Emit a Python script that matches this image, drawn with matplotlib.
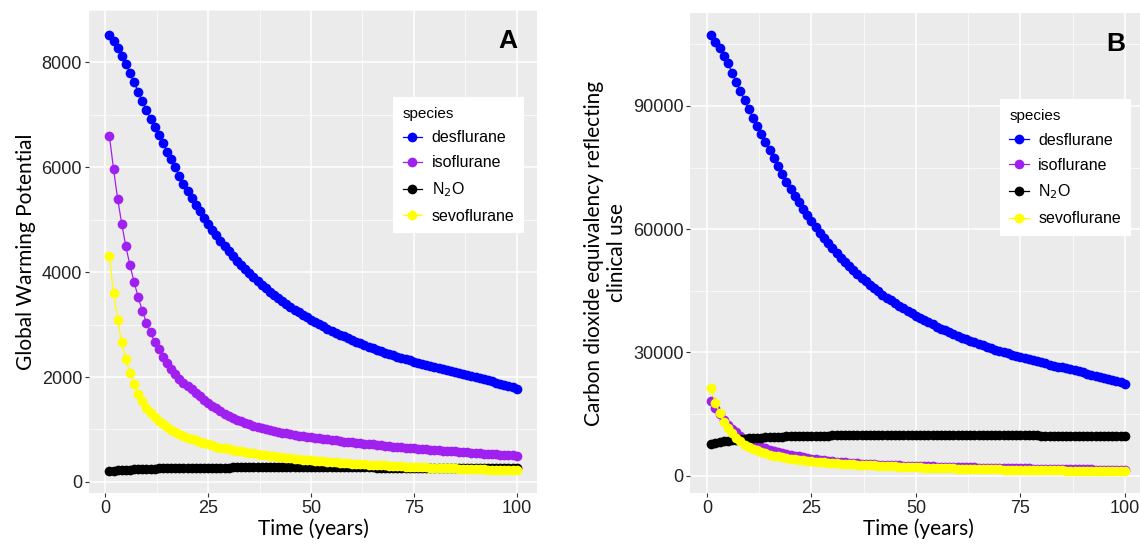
import matplotlib
matplotlib.use("Agg")
import matplotlib.pyplot as plt
from matplotlib.lines import Line2D

years = list(range(1, 101))

# panel A: global warming potential
gwp_des = [8530, 8400, 8270, 8120, 7975, 7800, 7620, 7440, 7265, 7090,
           6930, 6770, 6610, 6455, 6300, 6150, 6000, 5840, 5690, 5550,
           5420, 5290, 5165, 5040, 4920, 4810, 4700, 4600, 4500, 4400,
           4310, 4220, 4135, 4055, 3975, 3900, 3830, 3760, 3690, 3625,
           3565, 3505, 3445, 3390, 3335, 3285, 3235, 3185, 3140, 3095,
           3050, 3005, 2965, 2925, 2885, 2845, 2810, 2775, 2740, 2705,
           2670, 2640, 2610, 2580, 2550, 2520, 2490, 2465, 2440, 2415,
           2390, 2365, 2340, 2320, 2295, 2275, 2250, 2230, 2210, 2190,
           2170, 2150, 2130, 2110, 2095, 2075, 2055, 2040, 2020, 2005,
           1975, 1955, 1935, 1915, 1895, 1875, 1855, 1835, 1805, 1775]
gwp_iso = [6600, 5970, 5400, 4920, 4490, 4130, 3815, 3520, 3265, 3035,
           2850, 2670, 2530, 2390, 2260, 2150, 2050, 1960, 1890, 1830,
           1765, 1700, 1640, 1570, 1505, 1450, 1400, 1350, 1300, 1250,
           1220, 1190, 1160, 1130, 1100, 1075, 1050, 1030, 1010, 990,
           970, 955, 940, 925, 910, 895, 880, 870, 860, 850,
           840, 830, 820, 810, 800, 790, 780, 770, 762, 754,
           746, 738, 730, 722, 714, 706, 698, 690, 682, 674,
           667, 660, 653, 646, 640, 634, 628, 622, 616, 610,
           604, 598, 592, 586, 580, 574, 568, 562, 556, 550,
           545, 540, 535, 530, 525, 520, 515, 510, 505, 500]
gwp_n2o = [205, 213, 220, 226, 231, 236, 240, 244, 247, 250,
           253, 255, 257, 259, 261, 263, 264, 265, 266, 267,
           268, 269, 270, 271, 272, 272, 273, 273, 274, 274,
           275, 275, 275, 276, 276, 276, 276, 277, 277, 277,
           277, 277, 277, 277, 277, 277, 277, 277, 277, 277,
           277, 277, 277, 276, 276, 276, 276, 276, 276, 275,
           275, 275, 275, 275, 275, 274, 274, 274, 274, 274,
           274, 274, 273, 273, 273, 273, 273, 273, 272, 272,
           272, 272, 272, 272, 272, 272, 271, 271, 271, 271,
           271, 271, 271, 271, 271, 270, 270, 270, 270, 270]
gwp_sevo = [4300, 3600, 3090, 2660, 2340, 2080, 1860, 1685, 1535, 1415,
            1320, 1240, 1170, 1100, 1040, 990, 950, 910, 875, 845,
            815, 790, 765, 740, 715, 695, 675, 655, 638, 622,
            607, 593, 580, 567, 555, 543, 532, 520, 510, 500,
            490, 480, 470, 461, 452, 443, 435, 427, 419, 411,
            404, 397, 390, 384, 378, 372, 366, 360, 355, 350,
            345, 340, 335, 330, 325, 321, 317, 313, 309, 305,
            301, 297, 293, 290, 286, 283, 280, 277, 274, 271,
            268, 265, 262, 259, 256, 253, 250, 248, 246, 244,
            242, 239, 236, 233, 230, 228, 226, 224, 222, 220]

# panel B: CO2 equivalency reflecting clinical use
co2_des = [107310, 105670, 104040, 102150, 100330, 98120, 95860, 93600, 91390, 89190,
           87180, 85170, 83150, 81200, 79250, 77370, 75480, 73470, 71580, 69820,
           68180, 66550, 64980, 63400, 61890, 60510, 59130, 57870, 56610, 55350,
           54220, 53090, 52020, 51010, 50010, 49060, 48180, 47300, 46420, 45600,
           44850, 44090, 43340, 42650, 41950, 41330, 40700, 40070, 39500, 38940,
           38370, 37800, 37300, 36800, 36290, 35790, 35350, 34910, 34470, 34030,
           33590, 33210, 32830, 32460, 32080, 31700, 31320, 31010, 30700, 30380,
           30070, 29750, 29440, 29190, 28870, 28620, 28310, 28050, 27800, 27550,
           27300, 27050, 26800, 26540, 26360, 26100, 25850, 25660, 25410, 25220,
           24850, 24590, 24340, 24090, 23840, 23590, 23340, 23080, 22710, 22330]
co2_iso = [18280, 16540, 14960, 13630, 12440, 11440, 10570, 9750, 9040, 8410,
           7890, 7400, 7010, 6620, 6260, 5960, 5680, 5430, 5240, 5070,
           4890, 4710, 4540, 4350, 4170, 4020, 3880, 3740, 3600, 3460,
           3380, 3300, 3210, 3130, 3050, 2980, 2910, 2850, 2800, 2740,
           2690, 2650, 2600, 2560, 2520, 2480, 2440, 2410, 2380, 2350,
           2330, 2300, 2270, 2240, 2220, 2190, 2160, 2130, 2110, 2090,
           2070, 2040, 2020, 2000, 1980, 1960, 1930, 1910, 1890, 1870,
           1850, 1830, 1810, 1790, 1770, 1760, 1740, 1720, 1710, 1690,
           1670, 1660, 1640, 1620, 1610, 1590, 1570, 1560, 1540, 1520,
           1510, 1500, 1480, 1470, 1450, 1440, 1430, 1410, 1400, 1390]
co2_n2o = [7650, 7900, 8130, 8330, 8500, 8650, 8780, 8900, 9000, 9090,
           9160, 9220, 9280, 9330, 9380, 9420, 9460, 9500, 9530, 9560,
           9590, 9620, 9640, 9660, 9680, 9700, 9720, 9740, 9760, 9780,
           9800, 9810, 9820, 9830, 9840, 9850, 9860, 9870, 9880, 9890,
           9900, 9910, 9920, 9930, 9940, 9950, 9950, 9960, 9960, 9960,
           9960, 9960, 9960, 9950, 9950, 9950, 9950, 9940, 9940, 9940,
           9930, 9930, 9920, 9920, 9910, 9900, 9900, 9890, 9880, 9870,
           9860, 9850, 9840, 9830, 9820, 9810, 9800, 9790, 9780, 9770,
           9760, 9750, 9740, 9730, 9720, 9710, 9700, 9700, 9690, 9680,
           9670, 9660, 9650, 9650, 9640, 9630, 9620, 9620, 9610, 9600]
co2_sevo = [21240, 17780, 15260, 13140, 11560, 10280, 9190, 8320, 7580, 6990,
            6520, 6130, 5780, 5430, 5140, 4890, 4690, 4500, 4320, 4170,
            4030, 3900, 3780, 3660, 3530, 3430, 3330, 3240, 3150, 3070,
            3000, 2930, 2870, 2800, 2740, 2680, 2630, 2570, 2520, 2470,
            2420, 2370, 2320, 2280, 2230, 2190, 2150, 2110, 2070, 2030,
            2000, 1960, 1930, 1900, 1870, 1840, 1810, 1780, 1750, 1730,
            1700, 1680, 1650, 1630, 1610, 1590, 1570, 1550, 1530, 1510,
            1490, 1470, 1450, 1430, 1410, 1400, 1380, 1370, 1350, 1340,
            1320, 1310, 1290, 1280, 1260, 1250, 1240, 1230, 1220, 1210,
            1200, 1180, 1170, 1150, 1140, 1130, 1120, 1110, 1100, 1090]

species = ["desflurane", "isoflurane", "N$_2$O", "sevoflurane"]
colors = ["#0000FF", "#A020F0", "#000000", "#FFFF00"]

yticks_a = [0, 2000, 4000, 6000, 8000]
yticks_b = [0, 30000, 60000, 90000]
xticks = [0, 25, 50, 75, 100]

fig = plt.figure(figsize=(11.4, 5.46), dpi=100)
ax_a = fig.add_axes([0.0781, 0.0971, 0.3930, 0.8846])
ax_b = fig.add_axes([0.6057, 0.0971, 0.3991, 0.8791])

tick_font = "Liberation Sans"
label_font = ["Lato", "DejaVu Sans"]


def draw_panel(ax, series, yticks, ylabel, letter, leg_x):
    ax.set_facecolor("#EBEBEB")
    for vals, col in zip(series, colors):
        ax.plot(years, vals, color=col, linewidth=0.9, marker="o",
                markersize=7, markeredgewidth=0, zorder=3)
    ax.margins(x=0.05, y=0.05)
    ax.set_xticks(xticks)
    ax.set_yticks(yticks)
    step_x = xticks[1] - xticks[0]
    step_y = yticks[1] - yticks[0]
    ax.set_xticks([t + step_x / 2 for t in xticks[:-1]], minor=True)
    ax.set_yticks([t + step_y / 2 for t in yticks], minor=True)
    ax.grid(which="major", color="white", linewidth=1.1, zorder=0)
    ax.grid(which="minor", color="white", linewidth=0.5, zorder=0)
    ax.set_axisbelow(True)
    for s in ax.spines.values():
        s.set_visible(False)
    ax.tick_params(which="major", length=3, color="#333333", width=0.8,
                   labelsize=13, labelcolor="#222222", pad=2)
    ax.tick_params(which="minor", length=0)
    for lab in ax.get_xticklabels() + ax.get_yticklabels():
        lab.set_fontfamily(tick_font)
    ax.set_xlabel("Time (years)", fontsize=15, family=label_font, labelpad=1)
    ax.set_ylabel(ylabel, fontsize=15, family=label_font, labelpad=4)
    ax.yaxis.label.set_multialignment("center")
    ax.text(0.935, 0.935, letter, transform=ax.transAxes, fontsize=19,
            fontweight="bold", family=tick_font, ha="center", va="center")

    handles = [Line2D([0], [0], color=c, marker="o", markersize=7,
                      linewidth=0.9, markeredgewidth=0) for c in colors]
    leg = ax.legend(handles, species, title="species", loc="upper left",
                    bbox_to_anchor=(leg_x, 0.82), frameon=True, fancybox=False,
                    framealpha=1, edgecolor="white", handlelength=1.2,
                    handletextpad=0.6, labelspacing=0.62, borderpad=0.6,
                    borderaxespad=0,
                    prop={"family": tick_font, "size": 11.5})
    leg.get_title().set_fontfamily(tick_font)
    leg.get_title().set_fontsize(11)
    leg._legend_box.align = "left"
    leg.get_frame().set_linewidth(0)


draw_panel(ax_a, [gwp_des, gwp_iso, gwp_n2o, gwp_sevo], yticks_a,
           "Global Warming Potential", "A", 0.679)
draw_panel(ax_b, [co2_des, co2_iso, co2_n2o, co2_sevo], yticks_b,
           "Carbon dioxide equivalency reflecting\nclinical use", "B", 0.68)

fig.savefig("out.png", dpi=100)
